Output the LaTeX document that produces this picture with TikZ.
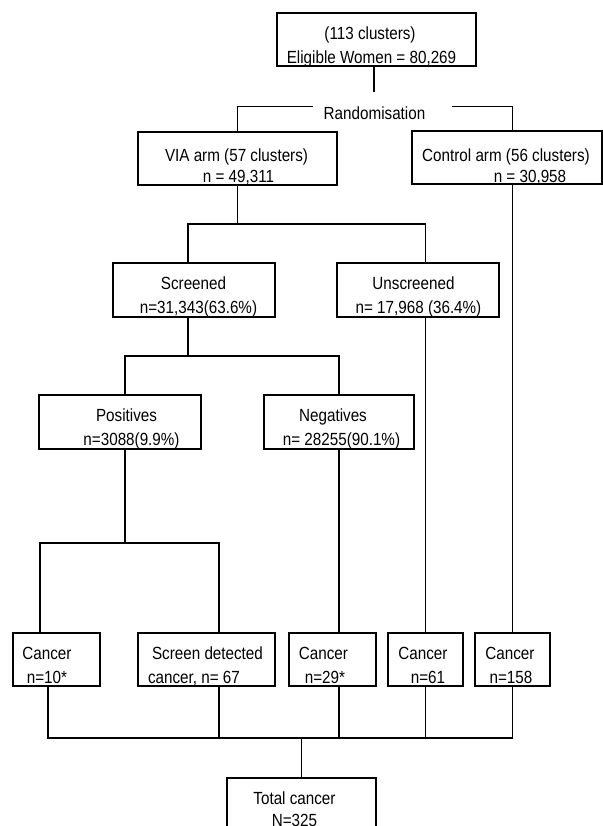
\documentclass[tikz,border=0pt]{standalone}
\usepackage{fontspec}
\setmainfont{Liberation Sans}[FakeStretch=0.865]

\begin{document}
\begin{tikzpicture}[x=0.75pt, y=-0.75pt, line width=0.8pt,
  box/.style 2 args={draw, line width=1.1pt, minimum width=#1*0.75pt,
    minimum height=#2*0.75pt, inner sep=0pt},
  txt/.style={anchor=base, inner sep=0pt, font=\fontsize{13.2}{15}\selectfont}]
  \useasboundingbox (0,0) rectangle (603,826);
  \clip (0,0) rectangle (603,826);
  \node[box={199}{53}] (top) at (376.5,39.5) {};
  \node[box={199}{53}] (via) at (237.5,158.5) {};
  \node[box={190}{53}] (ctrl) at (507,157.5) {};
  \node[box={162}{54}] (scr) at (194,290) {};
  \node[box={162}{54}] (uns) at (418,290) {};
  \node[box={162}{54}] (pos) at (120,422) {};
  \node[box={150}{54}] (neg) at (339,422) {};
  \node[box={87}{53}] (c1) at (56.5,659.5) {};
  \node[box={137}{53}] (c2) at (206.5,659.5) {};
  \node[box={87}{53}] (c3) at (332.5,659.5) {};
  \node[box={75}{53}] (c4) at (425.5,659.5) {};
  \node[box={75}{53}] (c5) at (512.5,659.5) {};
  \node[box={149}{84}] (tot) at (301.5,820) {};
  \node[txt] (top-a) at (370,39) {(113 clusters)};
  \node[txt] (top-b) at (371.5,63) {Eligible Women = 80,269};
  \node[txt] (rnd) at (374.5,119) {Randomisation};
  \node[txt] (via-a) at (236.5,161) {VIA arm (57 clusters)};
  \node[txt] (via-b) at (238.5,182) {n = 49,311};
  \node[txt] (ctrl-a) at (506,161) {Control arm (56 clusters)};
  \node[txt] (ctrl-b) at (530,182) {n = 30,958};
  \node[txt] (scr-a) at (193.5,289) {Screened};
  \node[txt] (scr-b) at (198.5,313) {n=31,343(63.6\%)};
  \node[txt] (uns-a) at (413.5,289) {Unscreened};
  \node[txt] (uns-b) at (418.5,313) {n= 17,968 (36.4\%)};
  \node[txt] (pos-a) at (126.5,421) {Positives};
  \node[txt] (pos-b) at (131.5,445) {n=3088(9.9\%)};
  \node[txt] (neg-a) at (333,421) {Negatives};
  \node[txt] (neg-b) at (341.5,445) {n= 28255(90.1\%)};
  \node[txt] (c1-a) at (47,659) {Cancer};
  \node[txt] (c1-b) at (47,683) {n=10*};
  \node[txt] (c2-a) at (207.5,659) {Screen detected};
  \node[txt] (c2-b) at (194,683) {cancer, n= 67};
  \node[txt] (c3-a) at (323.5,659) {Cancer};
  \node[txt] (c3-b) at (325,683) {n=29*};
  \node[txt] (c4-a) at (423,659) {Cancer};
  \node[txt] (c4-b) at (428,683) {n=61};
  \node[txt] (c5-a) at (510,659) {Cancer};
  \node[txt] (c5-b) at (511,683) {n=158};
  \node[txt] (tot-a) at (294.5,804) {Total cancer};
  \node[txt] (tot-b) at (294.5,826) {N=325};
  \coordinate (rtop) at (374,92);
  \coordinate (rl) at (313,106.5);
  \coordinate (rr) at (452,106.5);
  \coordinate (vj) at (237.5,224);
  \coordinate (sj) at (188,356);
  \coordinate (pj) at (125,543);
  \coordinate (pl) at (40,543);
  \coordinate (pr) at (219,543);
  \coordinate (bl) at (48,738);
  \draw (top.south -| rtop) -- (rtop);
  \draw (rl) -| (via.north);
  \draw (rr) -| (ctrl.north -| c5);
  \draw (via.south) -- (vj);
  \draw (scr.north -| sj) |- (vj -| c4) -- (uns.north -| c4);
  \draw (scr.south -| sj) -- (sj);
  \draw (pos.north -| pj) |- (sj -| neg) -- (neg.north);
  \draw (uns.south -| c4) -- (c4.north);
  \draw (ctrl.south -| c5) -- (c5.north);
  \draw (pos.south -| pj) -- (pj);
  \draw (c1.north -| pl) -- (pl) -- (pr) -- (c2.north -| pr);
  \draw (neg.south) -- (c3.north -| neg);
  \draw (c1.south -| bl) -- (bl) -| (c5.south);
  \draw (c2.south -| pr) -- (bl -| pr);
  \draw (c3.south -| neg) -- (bl -| neg);
  \draw (c4.south) -- (bl -| c4);
  \draw (bl -| tot) -- (tot.north);
\end{tikzpicture}
\end{document}
